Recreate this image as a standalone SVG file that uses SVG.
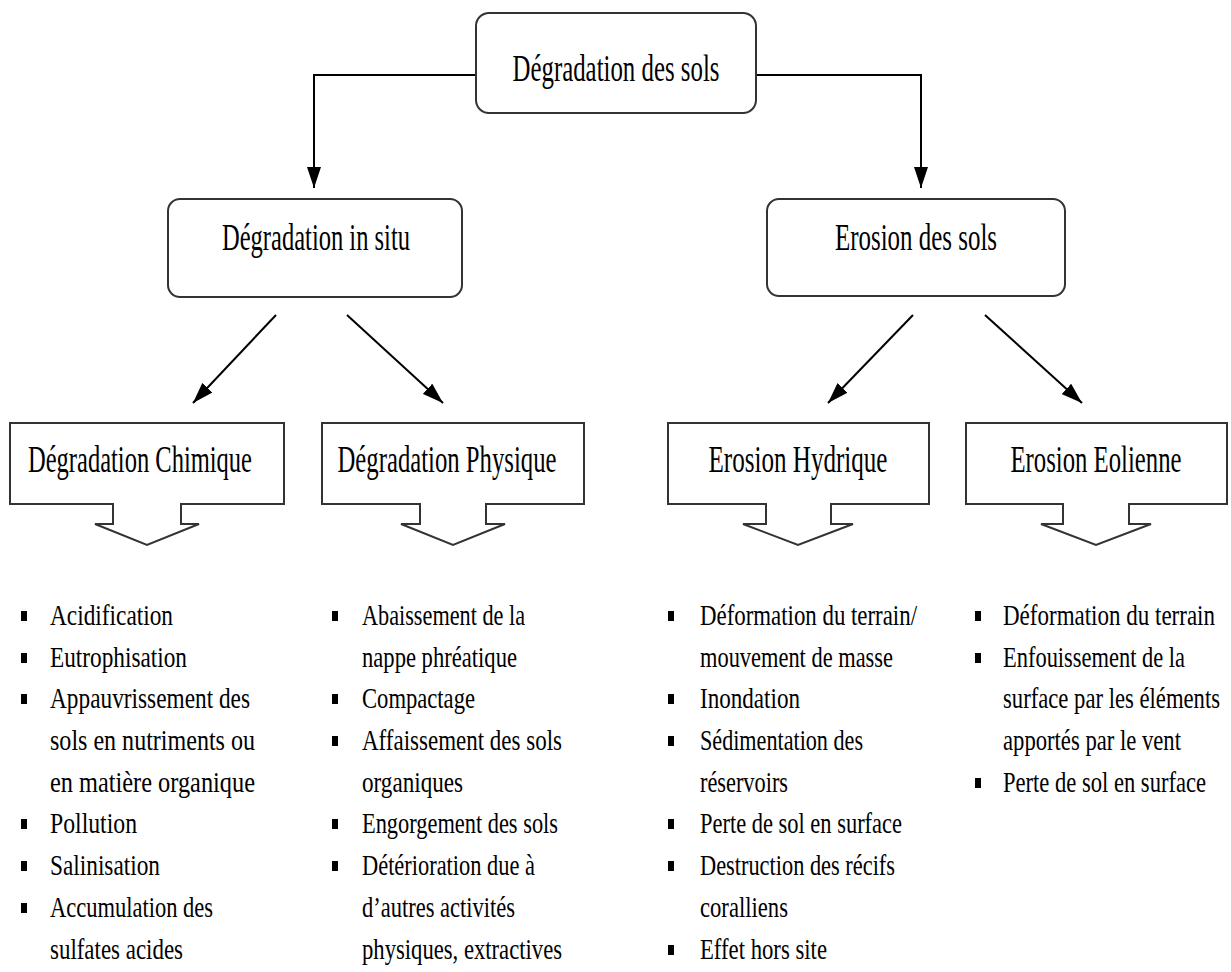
<svg xmlns="http://www.w3.org/2000/svg" width="1231" height="972" viewBox="0 0 1231 972">
<defs>
<style>
.box{fill:#fff;stroke:#333;stroke-width:2}
.con{fill:none;stroke:#000;stroke-width:2}
.t{font-family:"Liberation Serif","Times New Roman",serif;font-size:38px;fill:#000;text-anchor:middle}
.b{font-family:"Liberation Serif","Times New Roman",serif;font-size:30px;fill:#000}
.sq{fill:#000}
</style>
<marker id="ah" markerUnits="userSpaceOnUse" markerWidth="21" markerHeight="14" viewBox="0 0 21 14" refX="21" refY="7" orient="auto">
<path d="M0,0 L21,7 L0,14 z" fill="#000"/>
</marker>
</defs>
<rect width="1231" height="972" fill="#fff"/>

<g id="connectors">
<path class="con" d="M476,75 H314 V188" marker-end="url(#ah)"/>
<path class="con" d="M756,75 H921 V188" marker-end="url(#ah)"/>
<line class="con" x1="276" y1="315" x2="193" y2="403" marker-end="url(#ah)"/>
<line class="con" x1="347" y1="315" x2="443" y2="403" marker-end="url(#ah)"/>
<line class="con" x1="913" y1="315" x2="828" y2="403" marker-end="url(#ah)"/>
<line class="con" x1="985" y1="315" x2="1082" y2="403" marker-end="url(#ah)"/>
</g>

<g id="root">
<rect class="box" x="476" y="13" width="280" height="100" rx="13"/>
<text class="t" x="616" y="81" textLength="207" lengthAdjust="spacingAndGlyphs">Dégradation des sols</text>
</g>

<g id="insitu">
<rect class="box" x="168" y="199" width="294" height="98" rx="12"/>
<text class="t" x="316" y="250" textLength="188" lengthAdjust="spacingAndGlyphs">Dégradation in situ</text>
</g>

<g id="erosion">
<rect class="box" x="767" y="199" width="298" height="97" rx="12"/>
<text class="t" x="916" y="250" textLength="162" lengthAdjust="spacingAndGlyphs">Erosion des sols</text>
</g>

<g id="chimique">
<path class="box" d="M10,423 H284 V504 H181 V524 H199 L147,545 L95,524 H113 V504 H10 Z"/>
<text class="t" x="140" y="472" textLength="224" lengthAdjust="spacingAndGlyphs">Dégradation Chimique</text>
</g>

<g id="physique">
<path class="box" d="M322,423 H584 V504 H486 V524 H505 L453,545 L401,524 H420 V504 H322 Z"/>
<text class="t" x="447" y="472" textLength="219" lengthAdjust="spacingAndGlyphs">Dégradation Physique</text>
</g>

<g id="hydrique">
<path class="box" d="M668,423 H929 V504 H831 V524 H853 L798,545 L743,524 H766 V504 H668 Z"/>
<text class="t" x="798" y="472" textLength="179" lengthAdjust="spacingAndGlyphs">Erosion Hydrique</text>
</g>

<g id="eolienne">
<path class="box" d="M966,423 H1227 V504 H1129 V524 H1151 L1096,545 L1041,524 H1063 V504 H966 Z"/>
<text class="t" x="1096" y="472" textLength="171" lengthAdjust="spacingAndGlyphs">Erosion Eolienne</text>
</g>

<g id="list-chimique">
<rect class="sq" x="21" y="611" width="6" height="10"/>
<text class="b" x="50" y="625" textLength="123" lengthAdjust="spacingAndGlyphs">Acidification</text>
<rect class="sq" x="21" y="653" width="6" height="10"/>
<text class="b" x="50" y="667" textLength="137" lengthAdjust="spacingAndGlyphs">Eutrophisation</text>
<rect class="sq" x="21" y="694" width="6" height="10"/>
<text class="b" x="50" y="708" textLength="200" lengthAdjust="spacingAndGlyphs">Appauvrissement des</text>
<text class="b" x="50" y="750" textLength="205" lengthAdjust="spacingAndGlyphs">sols en nutriments ou</text>
<text class="b" x="50" y="792" textLength="205" lengthAdjust="spacingAndGlyphs">en matière organique</text>
<rect class="sq" x="21" y="819" width="6" height="10"/>
<text class="b" x="50" y="833" textLength="87" lengthAdjust="spacingAndGlyphs">Pollution</text>
<rect class="sq" x="21" y="861" width="6" height="10"/>
<text class="b" x="50" y="875" textLength="110" lengthAdjust="spacingAndGlyphs">Salinisation</text>
<rect class="sq" x="21" y="903" width="6" height="10"/>
<text class="b" x="50" y="917" textLength="163" lengthAdjust="spacingAndGlyphs">Accumulation des</text>
<text class="b" x="50" y="959" textLength="133" lengthAdjust="spacingAndGlyphs">sulfates acides</text>
</g>

<g id="list-physique">
<rect class="sq" x="332" y="611" width="6" height="10"/>
<text class="b" x="362" y="625" textLength="163" lengthAdjust="spacingAndGlyphs">Abaissement de la</text>
<text class="b" x="362" y="667" textLength="155" lengthAdjust="spacingAndGlyphs">nappe phréatique</text>
<rect class="sq" x="332" y="694" width="6" height="10"/>
<text class="b" x="362" y="708" textLength="113" lengthAdjust="spacingAndGlyphs">Compactage</text>
<rect class="sq" x="332" y="736" width="6" height="10"/>
<text class="b" x="362" y="750" textLength="200" lengthAdjust="spacingAndGlyphs">Affaissement  des sols</text>
<text class="b" x="362" y="792" textLength="101" lengthAdjust="spacingAndGlyphs">organiques</text>
<rect class="sq" x="332" y="819" width="6" height="10"/>
<text class="b" x="362" y="833" textLength="196" lengthAdjust="spacingAndGlyphs">Engorgement des sols</text>
<rect class="sq" x="332" y="861" width="6" height="10"/>
<text class="b" x="362" y="875" textLength="173" lengthAdjust="spacingAndGlyphs">Détérioration due à</text>
<text class="b" x="362" y="917" textLength="153" lengthAdjust="spacingAndGlyphs">d’autres activités</text>
<text class="b" x="362" y="959" textLength="200" lengthAdjust="spacingAndGlyphs">physiques, extractives</text>
</g>

<g id="list-hydrique">
<rect class="sq" x="668" y="611" width="6" height="10"/>
<text class="b" x="700" y="625" textLength="217" lengthAdjust="spacingAndGlyphs">Déformation du terrain/</text>
<text class="b" x="700" y="667" textLength="193" lengthAdjust="spacingAndGlyphs">mouvement de masse</text>
<rect class="sq" x="668" y="694" width="6" height="10"/>
<text class="b" x="700" y="708" textLength="100" lengthAdjust="spacingAndGlyphs">Inondation</text>
<rect class="sq" x="668" y="736" width="6" height="10"/>
<text class="b" x="700" y="750" textLength="163" lengthAdjust="spacingAndGlyphs">Sédimentation des</text>
<text class="b" x="700" y="792" textLength="88" lengthAdjust="spacingAndGlyphs">réservoirs</text>
<rect class="sq" x="668" y="819" width="6" height="10"/>
<text class="b" x="700" y="833" textLength="202" lengthAdjust="spacingAndGlyphs">Perte de sol en surface</text>
<rect class="sq" x="668" y="861" width="6" height="10"/>
<text class="b" x="700" y="875" textLength="195" lengthAdjust="spacingAndGlyphs">Destruction des récifs</text>
<text class="b" x="700" y="917" textLength="88" lengthAdjust="spacingAndGlyphs">coralliens</text>
<rect class="sq" x="668" y="945" width="6" height="10"/>
<text class="b" x="700" y="959" textLength="127" lengthAdjust="spacingAndGlyphs">Effet hors site</text>
</g>

<g id="list-eolienne">
<rect class="sq" x="975" y="611" width="6" height="10"/>
<text class="b" x="1003" y="625" textLength="212" lengthAdjust="spacingAndGlyphs">Déformation du terrain</text>
<rect class="sq" x="975" y="653" width="6" height="10"/>
<text class="b" x="1003" y="667" textLength="182" lengthAdjust="spacingAndGlyphs">Enfouissement de la</text>
<text class="b" x="1003" y="708" textLength="217" lengthAdjust="spacingAndGlyphs">surface par les éléments</text>
<text class="b" x="1003" y="750" textLength="178" lengthAdjust="spacingAndGlyphs">apportés par le vent</text>
<rect class="sq" x="975" y="778" width="6" height="10"/>
<text class="b" x="1003" y="792" textLength="203" lengthAdjust="spacingAndGlyphs">Perte de sol en surface</text>
</g>
</svg>
